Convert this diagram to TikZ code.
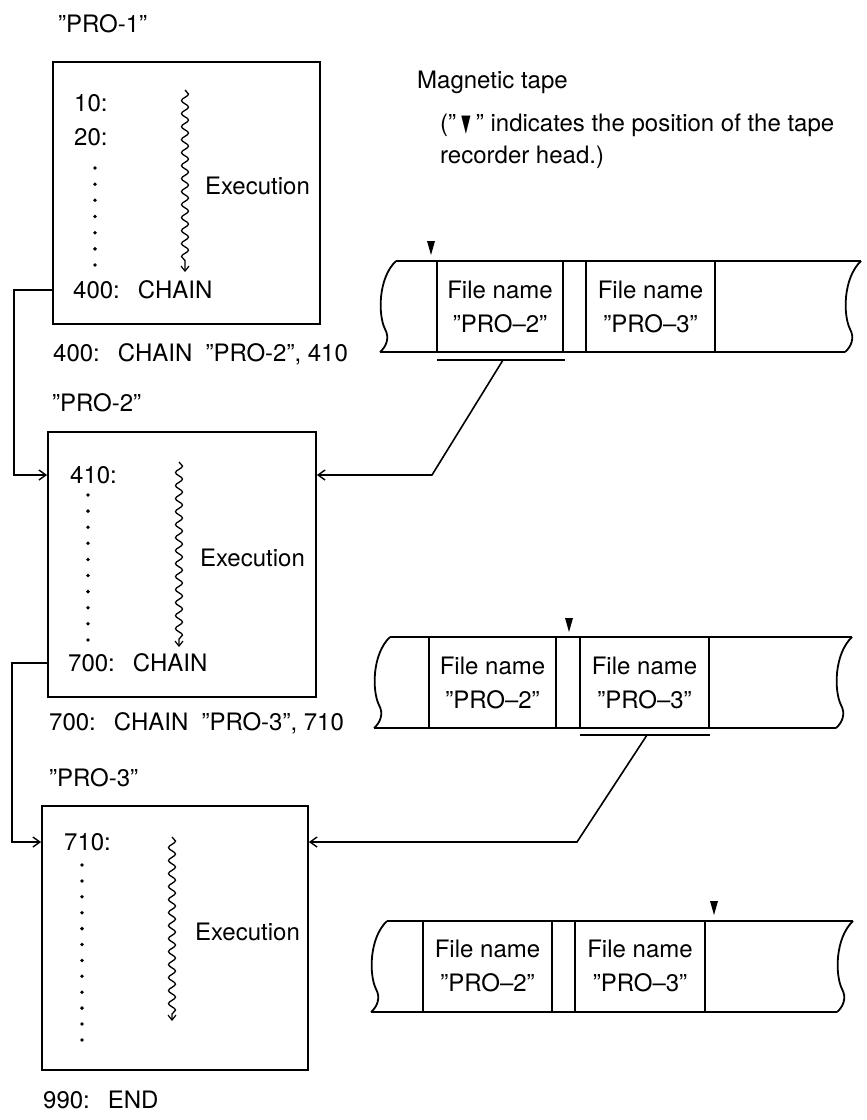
\documentclass[tikz,border=0pt]{standalone}
\usepackage{fontspec}
\setmainfont{TeX Gyre Heros}
\newfontfamily\symfont{DejaVu Sans}
\usetikzlibrary{arrows.meta,decorations.pathmorphing,calc}
\begin{document}
\begin{tikzpicture}[x=1pt,y=-1pt,
  txt/.style={anchor=west,inner sep=0pt,text height=17pt,text depth=0pt,font=\fontsize{24}{28}\selectfont},
  lgd/.style={txt,font=\fontsize{24}{28}\selectfont},
  progbox/.style={draw,line width=1.8pt,inner sep=0pt},
  conn/.style={line width=1.6pt,-{Straight Barb[length=7pt,width=10pt,line width=1.4pt]}},
  wave/.style={line width=1.3pt,decorate,decoration={snake,segment length=13pt,amplitude=3.5pt,post length=5pt},-{Straight Barb[length=5pt,width=8pt,line width=1.2pt]}},
  tapeline/.style={line width=1.8pt},
  cell/.style={align=center,inner sep=0pt,font=\fontsize{24}{34}\selectfont},
  head/.style={fill=black}
]
\useasboundingbox[fill=white] (0,0) rectangle (867,1120);

% ---------- program boxes ----------
\node[progbox,minimum width=267pt,minimum height=262pt] (b1) at (186.5,193) {};
\node[progbox,minimum width=268pt,minimum height=265pt] (b2) at (182,564.5) {};
\node[progbox,minimum width=266pt,minimum height=264pt] (b3) at (175,938) {};

% ---------- labels ----------
\node[txt] (p1) at (58,24) {”PRO-1”};
\node[txt] (l10) at (74,103) {10:};
\node[txt] (l20) at (74,137) {20:};
\node[txt] (l400) at (73,290) {400:\hspace{0.75em}CHAIN};
\node[txt] (e1) at (205,186) {Execution};
\node[txt] (cap1) at (53,353) {400:\hspace{0.75em}CHAIN\hspace{0.55em}”PRO-2”, 410};
\node[txt] (p2) at (52,403) {”PRO-2”};
\node[txt] (l410) at (70,475) {410:};
\node[txt] (e2) at (200,558) {Execution};
\node[txt] (l700) at (68,663) {700:\hspace{0.75em}CHAIN};
\node[txt] (cap2) at (49,722) {700:\hspace{0.75em}CHAIN\hspace{0.55em}”PRO-3”, 710};
\node[txt] (p3) at (49,778) {”PRO-3”};
\node[txt] (l710) at (64,842) {710:};
\node[txt] (e3) at (195,932) {Execution};
\node[txt] (l990) at (43,1100) {990:\hspace{0.75em}END};

% ---------- dotted columns ----------
\foreach \i in {0,...,6} \fill ({95},{168+16.17*\i}) circle (1.9pt);
\foreach \i in {0,...,9} \fill ({88},{495+16.1*\i}) circle (1.9pt);
\foreach \i in {0,...,11} \fill ({82},{865+15.9*\i}) circle (1.9pt);

% ---------- execution waves ----------
\draw[wave] (185,90) -- (185,272);
\draw[wave] (179,462) -- (179,647);
\draw[wave] (172,837) -- (172,1021);

% ---------- legend ----------
\node[lgd] (mt) at (417,80) {Magnetic tape};
\node[lgd] (lg1) at (440,123) {(”\hspace{0.22em}{\symfont\raisebox{0pt}{\scalebox{0.5}[1.0]{▼}}}\hspace{0.22em}” indicates the position of the tape};
\node[lgd] (lg2) at (440,155) {recorder head.)};

% ---------- tape 1 ----------
\draw[tapeline] (396,261) .. controls (378,278) and (378,315) .. (385,329) .. controls (390,338) and (386,347) .. (380,352);
\draw[tapeline] (861,261) .. controls (843,278) and (843,315) .. (850,329) .. controls (855,338) and (851,347) .. (845,352);
\draw[tapeline] (396,261) -- (861,261);
\draw[tapeline] (380,352) -- (845,352);
\foreach \xx in {437,563,586,715} \draw[tapeline] (\xx,261) -- (\xx,352);
\node[cell] (t1a) at (500,307) {File name\\”PRO–2”};
\node[cell] (t1b) at (650.5,307) {File name\\”PRO–3”};
\fill[head] (427,241) -- (435,241) -- (431,255) -- cycle;

% ---------- tape 2 ----------
\draw[tapeline] (390,637) .. controls (372,654) and (372,691) .. (379,705) .. controls (384,714) and (380,723) .. (374,728);
\draw[tapeline] (852,637) .. controls (834,654) and (834,691) .. (841,705) .. controls (846,714) and (842,723) .. (836,728);
\draw[tapeline] (390,637) -- (852,637);
\draw[tapeline] (374,728) -- (836,728);
\foreach \xx in {429,556,580,709} \draw[tapeline] (\xx,637) -- (\xx,728);
\node[cell] (t2a) at (492.5,683) {File name\\”PRO–2”};
\node[cell] (t2b) at (644.5,683) {File name\\”PRO–3”};
\fill[head] (565,618) -- (573,618) -- (569,632) -- cycle;

% ---------- tape 3 ----------
\draw[tapeline] (387,921) .. controls (369,938) and (369,975) .. (376,989) .. controls (381,998) and (377,1007) .. (371,1012);
\draw[tapeline] (853,921) .. controls (835,938) and (835,975) .. (842,989) .. controls (847,998) and (843,1007) .. (837,1012);
\draw[tapeline] (387,921) -- (853,921);
\draw[tapeline] (371,1012) -- (837,1012);
\foreach \xx in {423,552,575,705} \draw[tapeline] (\xx,921) -- (\xx,1012);
\node[cell] (t3a) at (487.5,966) {File name\\”PRO–2”};
\node[cell] (t3b) at (640,966) {File name\\”PRO–3”};
\fill[head] (710,901) -- (718,901) -- (714,915) -- cycle;

% ---------- chain connectors ----------
\coordinate (c1a) at (14,290);
\draw[conn] (b1.west |- l400) -- (c1a) -- (c1a |- l410) -- (b2.west |- l410);
\coordinate (c2a) at (12,663);
\draw[conn] (b2.west |- l700) -- (c2a) -- (c2a |- l710) -- (b3.west |- l710);

% ---------- load connectors from tape ----------
\coordinate (k1l) at (437,360);
\coordinate (k1r) at (565,360);
\coordinate (k1m) at (503,360);
\coordinate (k1e) at (432,475);
\draw[tapeline] (k1l) -- (k1r);
\draw[conn] (k1m) -- (k1e) -- (k1e -| b2.east);

\coordinate (k2l) at (580,735);
\coordinate (k2r) at (710,735);
\coordinate (k2m) at (647,735);
\coordinate (k2e) at (577,842);
\draw[tapeline] (k2l) -- (k2r);
\draw[conn] (k2m) -- (k2e) -- (k2e -| b3.east);
\end{tikzpicture}
\end{document}
